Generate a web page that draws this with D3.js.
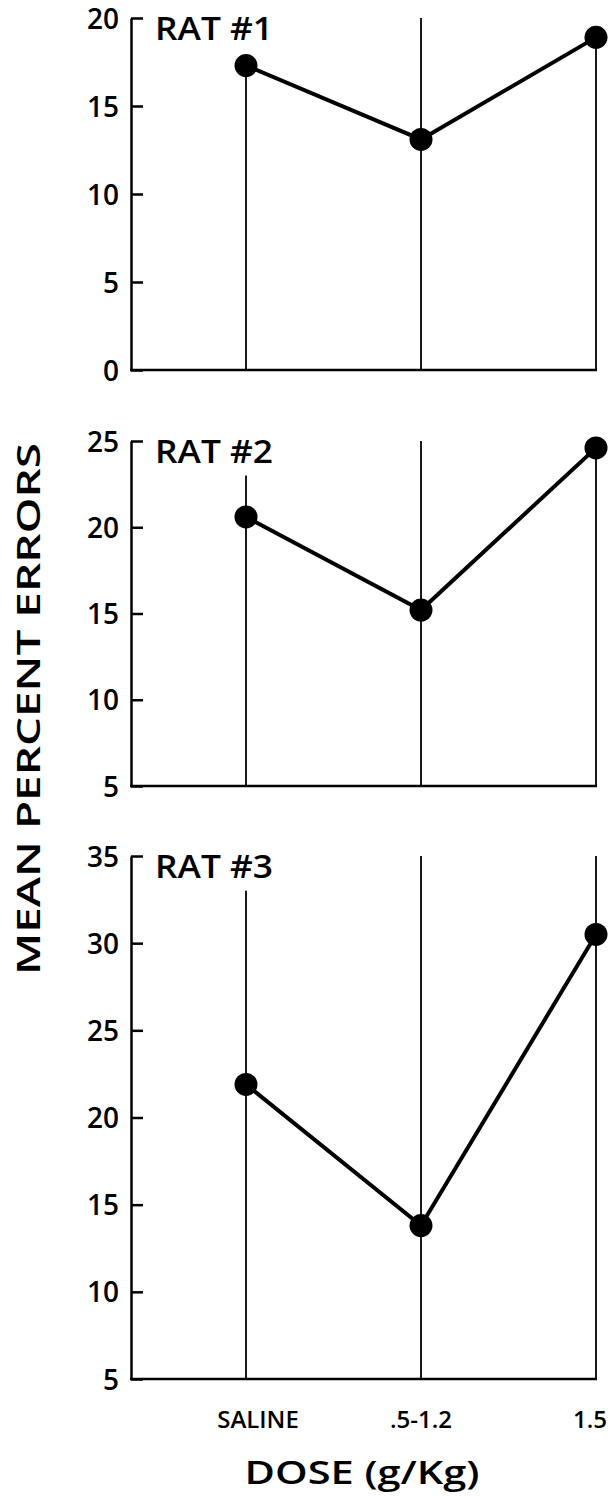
<!DOCTYPE html>
<html lang="en">
<head>
<meta charset="UTF-8">
<title>Mean Percent Errors by Dose</title>
<script src="https://cdn.jsdelivr.net/npm/d3@7"></script>
<style>
body {
    margin: 0;
    padding: 0;
    background: #fff;
}
svg text {
    font-family: "Open Sans", "DejaVu Sans", sans-serif;
    font-weight: 600;
    fill: #000;
}
.axis path, .axis line {
    stroke: #000;
    stroke-width: 2.5px;
}
.axis text {
    font-size: 28px;
}
</style>
</head>
<body>
<div id="chart"></div>
<script>
// Data
const doses = ["SALINE", ".5-1.2", "1.5"];
const ratLabels = ["RAT #1", "RAT #2", "RAT #3"];
const rat1 = [17.3, 13.1, 18.9];
const rat2 = [20.6, 15.2, 24.6];
const rat3 = [21.9, 13.8, 30.5];
const yDomains = [[0, 20], [5, 25], [5, 35]];
const yTicks = [[0, 5, 10, 15, 20], [5, 10, 15, 20, 25], [5, 10, 15, 20, 25, 30, 35]];
// where each vertical dose line starts (in y units)
const stemTops = [[17.3, 20, 18.9], [23, 25, 24.6], [33, 35, 35]];

const width = 610, height = 1497;
const axisX = 131;

// pixel extents of the three panels
const panels = [
    { series: rat1, top: 18, bottom: 370 },
    { series: rat2, top: 441, bottom: 786 },
    { series: rat3, top: 856, bottom: 1379 }
];

const svg = d3.select("#chart").append("svg")
    .attr("width", width).attr("height", height);

const x = d3.scalePoint().domain(doses).range([246, 596]);

panels.forEach((p, i) => {
    const y = d3.scaleLinear().domain(yDomains[i]).range([p.bottom, p.top]);
    const g = svg.append("g");
    const pts = p.series.map((v, j) => ({ dose: doses[j], value: v, stem: stemTops[i][j] }));

    // vertical dose lines
    g.selectAll("line.stem")
        .data(pts)
        .enter().append("line")
        .attr("class", "stem")
        .attr("x1", d => x(d.dose)).attr("x2", d => x(d.dose))
        .attr("y1", d => y(d.stem)).attr("y2", y(yDomains[i][0]))
        .attr("stroke", "#000")
        .attr("stroke-width", 1.8);

    // left axis with inward ticks
    g.append("g")
        .attr("class", "axis")
        .attr("transform", `translate(${axisX},0)`)
        .call(d3.axisLeft(y).tickValues(yTicks[i]).tickSizeInner(-12).tickSizeOuter(0).tickPadding(14))
        .call(a => a.selectAll("text").attr("x", -12).attr("dy", "0.36em"));

    // baseline
    g.append("line")
        .attr("x1", axisX - 1).attr("x2", x(doses[doses.length - 1]) + 1)
        .attr("y1", y(yDomains[i][0])).attr("y2", y(yDomains[i][0]))
        .attr("stroke", "#000")
        .attr("stroke-width", 2.5);

    // panel label
    g.append("text")
        .attr("x", 155)
        .attr("y", p.top + 22)
        .attr("font-size", 32)
        .attr("textLength", 118)
        .attr("lengthAdjust", "spacingAndGlyphs")
        .text(ratLabels[i]);

    // data line and dots
    const line = d3.line().x(d => x(d.dose)).y(d => y(d.value));
    g.append("path")
        .datum(pts)
        .attr("fill", "none")
        .attr("stroke", "#000")
        .attr("stroke-width", 4)
        .attr("d", line);

    g.selectAll("circle")
        .data(pts)
        .enter().append("circle")
        .attr("cx", d => x(d.dose))
        .attr("cy", d => y(d.value))
        .attr("r", 11.5)
        .attr("fill", "#000");

    // dose labels under the last panel
    if (i === panels.length - 1) {
        const last = doses[doses.length - 1];
        g.selectAll("text.dose")
            .data(doses)
            .enter().append("text")
            .attr("class", "dose")
            .attr("x", d => d === last ? x(d) + 11 : x(d) + (d === "SALINE" ? 12 : 0))
            .attr("y", p.bottom + 49)
            .attr("text-anchor", d => d === last ? "end" : "middle")
            .attr("font-size", 24)
            .text(d => d);
    }
});

// axis titles
svg.append("text")
    .attr("transform", "translate(40,709) rotate(-90)")
    .attr("text-anchor", "middle")
    .attr("font-size", 33)
    .attr("textLength", 532)
    .attr("lengthAdjust", "spacingAndGlyphs")
    .text("MEAN PERCENT ERRORS");

svg.append("text")
    .attr("x", 362)
    .attr("y", 1484)
    .attr("text-anchor", "middle")
    .attr("font-size", 32)
    .attr("textLength", 235)
    .attr("lengthAdjust", "spacingAndGlyphs")
    .text("DOSE (g/Kg)");
</script>
</body>
</html>
